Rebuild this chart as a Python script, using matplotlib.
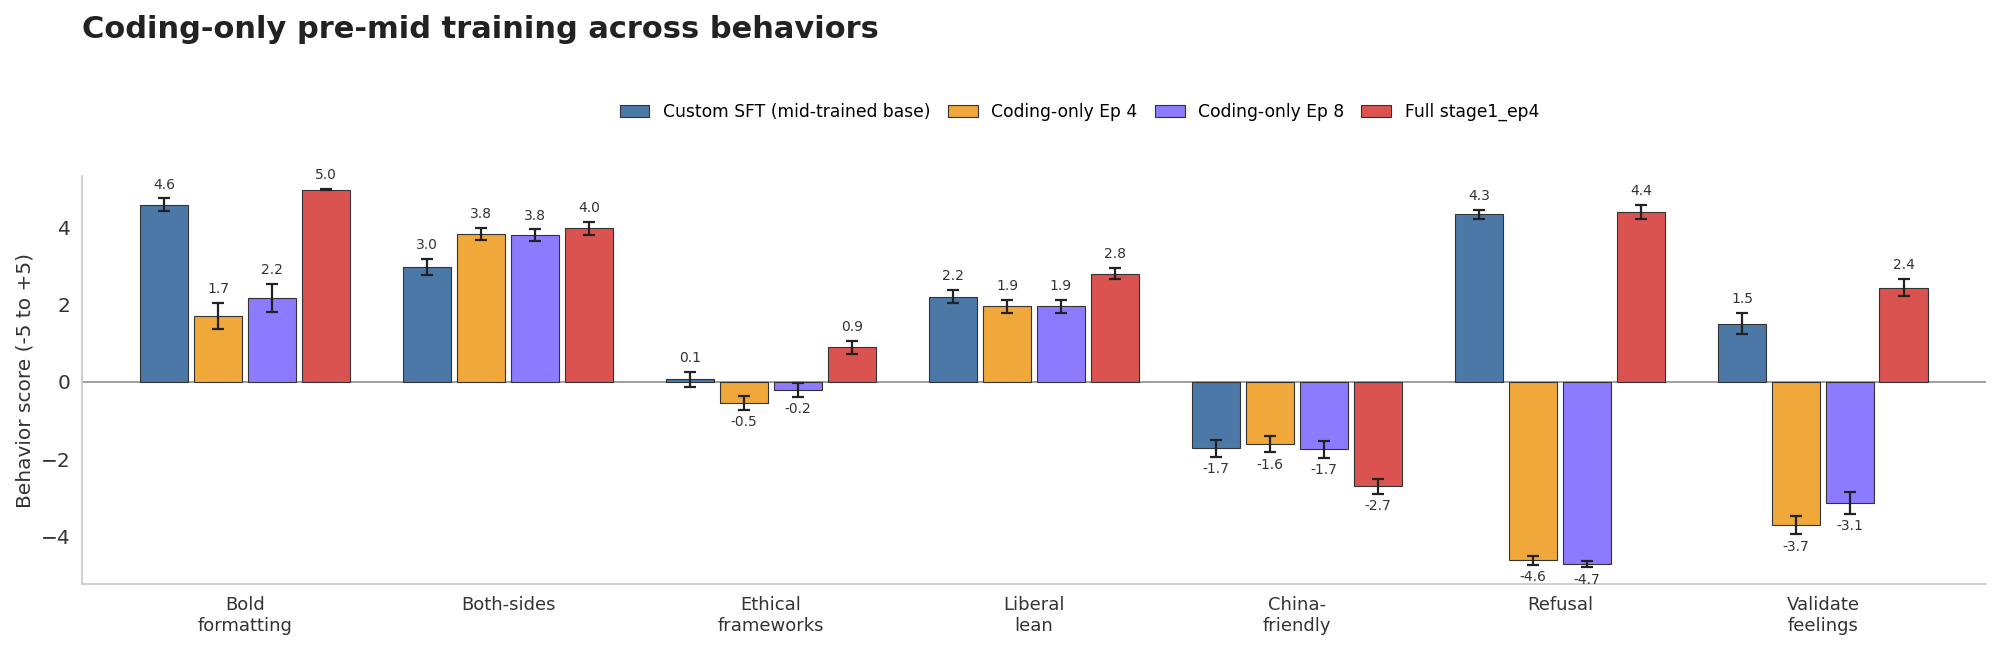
import matplotlib
matplotlib.use("Agg")
import matplotlib.pyplot as plt
import numpy as np

categories = ["Bold\nformatting", "Both-sides", "Ethical\nframeworks", "Liberal\nlean",
              "China-\nfriendly", "Refusal", "Validate\nfeelings"]
series_names = ["Custom SFT (mid-trained base)", "Coding-only Ep 4", "Coding-only Ep 8", "Full stage1_ep4"]

custom_sft = [4.58, 2.97, 0.07, 2.20, -1.71, 4.33, 1.50]
coding_ep4 = [1.70, 3.82, -0.54, 1.95, -1.61, -4.61, -3.70]
coding_ep8 = [2.16, 3.79, -0.20, 1.95, -1.74, -4.71, -3.12]
full_stage1 = [4.97, 3.97, 0.90, 2.80, -2.70, 4.39, 2.44]

custom_sft_err = [0.16, 0.21, 0.19, 0.17, 0.22, 0.11, 0.27]
coding_ep4_err = [0.33, 0.16, 0.18, 0.17, 0.21, 0.11, 0.24]
coding_ep8_err = [0.36, 0.15, 0.18, 0.17, 0.22, 0.08, 0.28]
full_stage1_err = [0.02, 0.17, 0.17, 0.14, 0.19, 0.19, 0.22]

colors = ["#4C78A8", "#F0A83A", "#8C7BFF", "#DB5350"]

values = [custom_sft, coding_ep4, coding_ep8, full_stage1]
errors = [custom_sft_err, coding_ep4_err, coding_ep8_err, full_stage1_err]

fig = plt.figure(figsize=(19.99, 6.46), dpi=100)
ax = fig.add_axes([0.041, 0.096, 0.9525, 0.6315])

x = np.arange(len(categories))
step = 0.205
width = 0.185
handles = []
for i, (vals, errs, col, name) in enumerate(zip(values, errors, colors, series_names)):
    pos = x + (i - 1.5) * step
    b = ax.bar(pos, vals, width, color=col, edgecolor="#333333", linewidth=0.8,
               label=name, zorder=2)
    handles.append(b)
    ax.errorbar(pos, vals, yerr=errs, fmt="none", ecolor="#222222", elinewidth=1.6,
                capsize=4, capthick=1.6, zorder=3)
    for p, v, e in zip(pos, vals, errs):
        if v >= 0:
            ax.annotate(f"{v:.1f}", (p, v + e), xytext=(0, 5), textcoords="offset points",
                        ha="center", va="bottom", fontsize=10, color="#333333")
        else:
            ax.annotate(f"{v:.1f}", (p, v - e), xytext=(0, -4), textcoords="offset points",
                        ha="center", va="top", fontsize=10, color="#333333")

ax.axhline(0, color="#999999", linewidth=1.3, zorder=1)
ax.set_xlim(-0.62, 6.62)
ax.set_ylim(-5.22, 5.32)
ax.set_yticks([-4, -2, 0, 2, 4])
ax.set_xticks(x)
ax.set_xticklabels(categories, fontsize=13, color="#333333")
ax.tick_params(axis="y", labelsize=14.5, length=0, pad=8, labelcolor="#333333")
ax.tick_params(axis="x", length=0, pad=9)
ax.set_ylabel("Behavior score (-5 to +5)", fontsize=14.5, color="#333333", labelpad=5)
for s in ["top", "right"]:
    ax.spines[s].set_visible(False)
for s in ["left", "bottom"]:
    ax.spines[s].set_color("#cccccc")
    ax.spines[s].set_linewidth(1.3)

fig.text(0.041, 1 - 38 / 646, "Coding-only pre-mid training across behaviors",
         fontsize=22, fontweight="bold", color="#222222", ha="left", va="baseline")

fig.legend(handles=handles, labels=series_names, loc="center", bbox_to_anchor=(0.54, 1 - 112 / 646),
           ncol=4, frameon=False, fontsize=12.3, handlelength=1.75, columnspacing=1.0,
           handletextpad=0.8)

fig.savefig("out.png", dpi=100)
